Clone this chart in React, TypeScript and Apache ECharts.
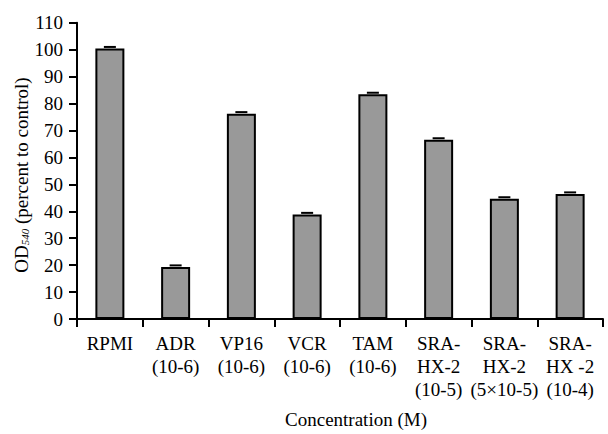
import React, { useEffect, useRef } from "react";
import * as echarts from "echarts";

const categories = [
  "RPMI",
  "ADR\n(10-6)",
  "VP16\n(10-6)",
  "VCR\n(10-6)",
  "TAM\n(10-6)",
  "SRA-\nHX-2\n(10-5)",
  "SRA-\nHX-2\n(5×10-5)",
  "SRA-\nHX -2\n(10-4)",
];
const values = [100.4, 19.3, 76.2, 38.8, 83.4, 66.5, 44.6, 46.4];
const errors = [0.6, 0.6, 0.6, 0.6, 0.6, 0.6, 0.6, 0.6];

const FONT = "Liberation Serif";

export default function App() {
  const ref = useRef<HTMLDivElement>(null);
  useEffect(() => {
    if (!ref.current) return;
    const chart = echarts.init(ref.current, undefined, { renderer: "svg" });
    const errData = values.map((v, i) => [i, v + errors[i]]);
    chart.setOption({
      animation: false,
      backgroundColor: "#ffffff",
      grid: { left: 77, right: 5, top: 22.7, bottom: 110.5, containLabel: false },
      xAxis: {
        type: "category",
        data: categories,
        axisLine: { lineStyle: { color: "#000", width: 2 } },
        axisTick: { show: true, length: 8, lineStyle: { color: "#000", width: 2 }, alignWithLabel: false },
        axisLabel: {
          interval: 0,
          margin: 13,
          color: "#000",
          fontFamily: FONT,
          fontSize: 19,
          lineHeight: 23,
        },
        name: "Concentration (M)",
        nameLocation: "middle",
        nameGap: 91,
        nameTextStyle: { color: "#000", fontFamily: FONT, fontSize: 19, padding: [0, 0, 0, 32] },
      },
      yAxis: {
        type: "value",
        min: 0,
        max: 110,
        interval: 10,
        splitLine: { show: false },
        axisLine: { show: true, lineStyle: { color: "#000", width: 2 } },
        axisTick: { show: true, length: 8, lineStyle: { color: "#000", width: 2 } },
        axisLabel: { margin: 14, color: "#000", fontFamily: FONT, fontSize: 19 },
      },
      graphic: [
        {
          type: "text",
          x: 21,
          y: 175,
          rotation: Math.PI / 2,
          style: {
            text: "OD{sub|540} (percent to control)",
            fill: "#000",
            fontFamily: FONT,
            fontSize: 19,
            align: "center",
            verticalAlign: "middle",
            rich: {
              sub: { fontFamily: FONT, fontSize: 11, fontStyle: "italic", fill: "#000", padding: [7, 0, 0, 0] },
            },
          },
        },
      ],
      series: [
        {
          type: "bar",
          data: values,
          barWidth: 29,
          itemStyle: { color: "#999999", borderColor: "#000", borderWidth: 2 },
        },
        {
          type: "custom",
          data: errData,
          renderItem: (params: any, api: any) => {
            const p = api.coord([api.value(0), api.value(1)]);
            return {
              type: "line",
              shape: { x1: p[0] - 6, y1: p[1], x2: p[0] + 6, y2: p[1] },
              style: { stroke: "#000", lineWidth: 2 },
            };
          },
          z: 3,
        },
      ],
    });
    return () => chart.dispose();
  }, []);
  return <div ref={ref} style={{ width: 608, height: 434, position: "absolute", left: 0, top: 0 }} />;
}
